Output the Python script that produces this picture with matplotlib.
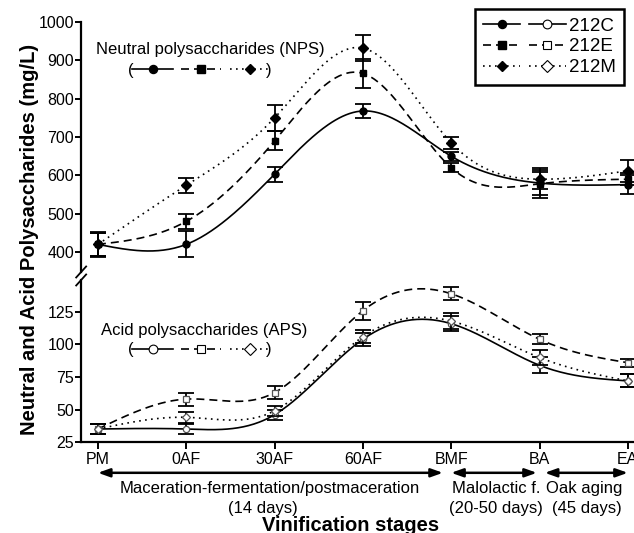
import numpy as np
import matplotlib
matplotlib.use("Agg")
import matplotlib.pyplot as plt
from matplotlib.lines import Line2D
from matplotlib.legend_handler import HandlerTuple

plt.rcParams['font.family'] = ['Liberation Sans', 'DejaVu Sans']

stages = ['PM', '0AF', '30AF', '60AF', 'BMF', 'BA', 'EA']
wines = ['212C', '212E', '212M']

# neutral polysaccharides (mg/L)
nps_212C = [420, 420, 603, 768, 650, 580, 576]
nps_212E = [420, 480, 690, 866, 620, 578, 590]
nps_212M = [420, 574, 750, 932, 685, 590, 612]
nps_err_212C = [32, 34, 20, 18, 12, 40, 25]
nps_err_212E = [30, 20, 25, 37, 12, 30, 15]
nps_err_212M = [30, 19, 33, 33, 15, 25, 28]

# acid polysaccharides (mg/L)
aps_212C = [35, 35, 46, 104, 116, 84, 72]
aps_212E = [35, 58, 63, 126, 139, 104, 86]
aps_212M = [35, 44, 49, 106, 118, 90, 72]
aps_err_212C = [4, 4, 4, 5, 6, 6, 5]
aps_err_212E = [4, 5, 5, 7, 5, 4, 3]
aps_err_212M = [4, 4, 4, 5, 6, 6, 5]


def natural_spline(x, y, n=300):
    x = np.asarray(x, float)
    y = np.asarray(y, float)
    m = len(x)
    h = np.diff(x)
    A = np.zeros((m, m))
    b = np.zeros(m)
    A[0, 0] = A[-1, -1] = 1
    for i in range(1, m - 1):
        A[i, i - 1] = h[i - 1]
        A[i, i] = 2 * (h[i - 1] + h[i])
        A[i, i + 1] = h[i]
        b[i] = 3 * ((y[i + 1] - y[i]) / h[i] - (y[i] - y[i - 1]) / h[i - 1])
    c = np.linalg.solve(A, b)
    xs = np.linspace(x[0], x[-1], n)
    idx = np.clip(np.searchsorted(x, xs) - 1, 0, m - 2)
    dx = xs - x[idx]
    bc = (y[1:] - y[:-1]) / h - h * (2 * c[:-1] + c[1:]) / 3
    d = (c[1:] - c[:-1]) / (3 * h)
    ys = y[idx] + bc[idx] * dx + c[idx] * dx ** 2 + d[idx] * dx ** 3
    return xs, ys


x = np.arange(len(stages))
styles = ['-', (0, (4.8, 3)), (0, (1, 2.6))]
nps_markers = ['o', 's', 'D']
nps_msize = [5, 5, 4.6]
aps_markers = ['o', 's', 'D']
aps_msize = [4.5, 4.5, 4.2]

fig = plt.figure(figsize=(6.34, 5.33), dpi=100)
ax_top = fig.add_axes([0.128, 0.4897, 0.872, 0.469])
ax_bot = fig.add_axes([0.128, 0.1707, 0.872, 0.304])

lw = 1.2
nps = [(nps_212C, nps_err_212C), (nps_212E, nps_err_212E), (nps_212M, nps_err_212M)]
aps = [(aps_212C, aps_err_212C), (aps_212E, aps_err_212E), (aps_212M, aps_err_212M)]

for i, (vals, err) in enumerate(nps):
    xs, ys = natural_spline(x, vals)
    ax_top.plot(xs, ys, color='black', lw=lw, linestyle=styles[i])
    ax_top.errorbar(x, vals, yerr=err, fmt='none', ecolor='black',
                    elinewidth=1.3, capsize=5.5, capthick=1.3)
    ax_top.plot(x, vals, linestyle='none', marker=nps_markers[i],
                markersize=nps_msize[i], color='black')

for i, (vals, err) in enumerate(aps):
    xs, ys = natural_spline(x, vals)
    ax_bot.plot(xs, ys, color='black', lw=lw, linestyle=styles[i])
    ax_bot.errorbar(x, vals, yerr=err, fmt='none', ecolor='black',
                    elinewidth=1.3, capsize=5.5, capthick=1.3)
    ax_bot.plot(x, vals, linestyle='none', marker=aps_markers[i],
                markersize=aps_msize[i], markerfacecolor='white',
                markeredgecolor='#555555', markeredgewidth=0.9)

for ax in (ax_top, ax_bot):
    ax.set_xlim(-0.19, 6.07)
    ax.spines['top'].set_visible(False)
    ax.spines['right'].set_visible(False)
    ax.spines['left'].set_linewidth(1.6)
    ax.spines['bottom'].set_linewidth(1.6)
    ax.tick_params(width=1.4, length=4, labelsize=11.5, pad=1)
    ax.patch.set_alpha(0)

ax_top.set_ylim(348, 1000)
ax_top.set_yticks([400, 500, 600, 700, 800, 900, 1000])
ax_top.spines['bottom'].set_visible(False)
ax_top.tick_params(axis='x', bottom=False, labelbottom=False)

ax_bot.set_ylim(25, 149.6)
ax_bot.set_yticks([25, 50, 75, 100, 125])
ax_bot.set_xticks(x)
ax_bot.set_xticklabels(stages)
ax_bot.tick_params(axis='x', length=5, pad=2)

# axis break marks
for ax, yc, dy in ((ax_top, 0.0, 0.022), (ax_bot, 1.0, 0.034)):
    ax.plot([-0.009, 0.009], [yc - dy, yc + dy], transform=ax.transAxes,
            color='black', lw=1.3, clip_on=False)

fig.text(0.046, 0.55, 'Neutral and Acid Polysaccharides (mg/L)', rotation=90,
         ha='center', va='center', fontsize=14.5, fontweight='bold')

# main legend
filled = []
opened = []
for i in range(3):
    filled.append(Line2D([], [], color='black', lw=lw, linestyle=styles[i],
                         marker=nps_markers[i], markersize=nps_msize[i] + 0.8))
    opened.append(Line2D([], [], color='black', lw=lw, linestyle=styles[i],
                         marker=aps_markers[i], markersize=aps_msize[i] + 1.8,
                         markerfacecolor='white', markeredgewidth=0.8))
leg = ax_top.legend(list(zip(filled, opened)), wines,
                    handler_map={tuple: HandlerTuple(ndivide=None, pad=0.45)},
                    loc='upper right', bbox_to_anchor=(0.982, 1.052),
                    borderaxespad=0, fontsize=13.5, handlelength=4.4,
                    handletextpad=0.15, labelspacing=0.2, borderpad=0.45,
                    fancybox=False, framealpha=1, edgecolor='black')
leg.get_frame().set_linewidth(1.8)

# series keys inside plot
ax_top.text(0.233, 0.892, 'Neutral polysaccharides (NPS)', transform=ax_top.transAxes,
            ha='center', va='center', fontsize=12)
key_top = ax_top.legend(filled, ['', '', ''], ncol=3, frameon=False, loc='center',
                        bbox_to_anchor=(0.217, 0.808), fontsize=10,
                        handlelength=2.9, handletextpad=0, columnspacing=0.6,
                        borderpad=0)
ax_top.add_artist(leg)
ax_top.text(0.09, 0.808, '(', transform=ax_top.transAxes, ha='center',
            va='center', fontsize=12)
ax_top.text(0.34, 0.808, ')', transform=ax_top.transAxes, ha='center',
            va='center', fontsize=12)

ax_bot.text(0.223, 0.691, 'Acid polysaccharides (APS)', transform=ax_bot.transAxes,
            ha='center', va='center', fontsize=12)
ax_bot.legend(opened, ['', '', ''], ncol=3, frameon=False, loc='center',
              bbox_to_anchor=(0.217, 0.568), fontsize=10,
              handlelength=2.9, handletextpad=0, columnspacing=0.6, borderpad=0)
ax_bot.text(0.09, 0.568, '(', transform=ax_bot.transAxes, ha='center',
            va='center', fontsize=12)
ax_bot.text(0.34, 0.568, ')', transform=ax_bot.transAxes, ha='center',
            va='center', fontsize=12)

# stage arrows and labels
arrow_y = -0.19
periods = [(0.0, 3.906), (4.0, 4.97), (5.06, 6.0)]
for x0, x1 in periods:
    ax_bot.annotate('', xy=(x1, arrow_y), xytext=(x0, arrow_y),
                    xycoords=('data', 'axes fraction'),
                    textcoords=('data', 'axes fraction'),
                    arrowprops=dict(arrowstyle='<|-|>,head_length=0.7,head_width=0.25',
                                    color='black', lw=1.8, shrinkA=0, shrinkB=0),
                    annotation_clip=False)

period_labels = [('Maceration-fermentation/postmaceration', '(14 days)', 1.95, 1.87),
                 ('Malolactic f.', '(20-50 days)', 4.51, 4.51),
                 ('Oak aging', '(45 days)', 5.51, 5.54)]
for l1, l2, p1, p2 in period_labels:
    ax_bot.text(p1, -0.284, l1, transform=ax_bot.get_xaxis_transform(),
                ha='center', va='center', fontsize=12)
    ax_bot.text(p2, -0.412, l2, transform=ax_bot.get_xaxis_transform(),
                ha='center', va='center', fontsize=12)

ax_bot.text(2.86, -0.515, 'Vinification stages', transform=ax_bot.get_xaxis_transform(),
            ha='center', va='center', fontsize=14.5, fontweight='bold')

fig.savefig('out.png', dpi=100)
